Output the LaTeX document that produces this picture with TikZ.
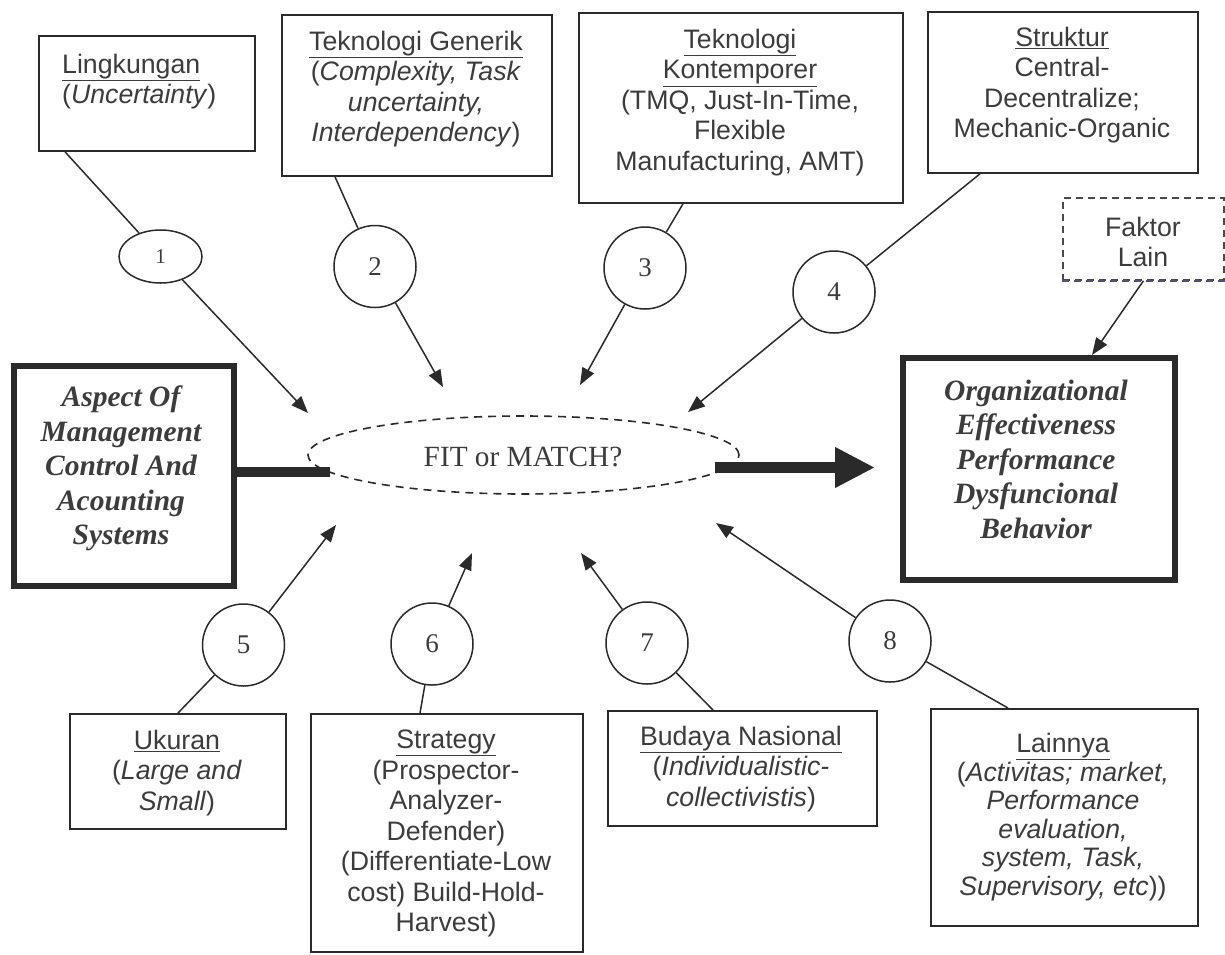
\documentclass[tikz,border=0pt]{standalone}
\usepackage{fontspec}
\setmainfont{Liberation Sans}
\newfontfamily\tnr{Liberation Serif}
\usetikzlibrary{arrows.meta,shapes.geometric}
\definecolor{ink}{HTML}{2A2A2A}
\definecolor{txtc}{HTML}{3C3C3C}
\definecolor{violetline}{HTML}{5A4E78}
\begin{document}
\begin{tikzpicture}[x=1pt,y=-1pt,
  box/.style={draw=ink, line width=1.8pt, anchor=north west, inner sep=0pt},
  bigbox/.style={draw=ink, line width=6pt, anchor=north west, inner sep=0pt},
  lbl/.style={text=txtc, font=\fontsize{26.7}{30.5}\selectfont, align=center, inner sep=0pt},
  biglbl/.style={text=txtc, font=\tnr\bfseries\itshape\fontsize{29.5}{34.5}\selectfont, align=center, inner sep=0pt},
  num/.style={draw=ink, line width=1.5pt, circle, minimum size=82pt, inner sep=0pt, text=txtc, font=\tnr\fontsize{27}{29}\selectfont},
  conn/.style={draw=ink, line width=1.5pt},
  arr/.style={conn, -{Triangle[length=17pt,width=13pt]}}
]
\useasboundingbox (0,0) rectangle (1225,954);

% top boxes
\node[box, minimum width=216pt, minimum height=115pt] (b1) at (38,35) {};
\node[lbl, align=left, anchor=west] (t1) at (62,81.5) {\underline{Lingkungan}\\(\textit{Uncertainty})};
\node[box, minimum width=270pt, minimum height=161pt] (b2) at (281,14) {};
\node[lbl] (t2) at (416,89) {\underline{Teknologi Generik}\\(\textit{Complexity, Task}\\\textit{uncertainty,}\\\textit{Interdependency})};
\node[box, minimum width=324pt, minimum height=190pt] (b3) at (578,12) {};
\node[lbl] (t3) at (740,102.5) {\underline{Teknologi}\\\underline{Kontemporer}\\(TMQ, Just-In-Time,\\Flexible\\Manufacturing, AMT)};
\node[box, minimum width=270pt, minimum height=161pt] (b4) at (927,11) {};
\node[lbl] (t4) at (1062,85) {\underline{Struktur}\\Central-\\Decentralize;\\Mechanic-Organic};
\node[box, dashed, dash pattern=on 7pt off 5pt, draw=ink!85, minimum width=161pt, minimum height=82pt] (fl) at (1062,197) {};
\draw[violetline, line width=1.8pt, dash pattern=on 7pt off 5pt] (fl.south west) -- (fl.south east);
\node[lbl] (tfl) at (1143,242) {Faktor\\Lain};

% big boxes
\node[bigbox, minimum width=220pt, minimum height=220pt] (asp) at (11,363) {};
\node[biglbl] (tasp) at (121,468.5) {Aspect Of\\Management\\Control And\\Acounting\\Systems};
\node[bigbox, minimum width=272pt, minimum height=222pt] (org) at (900,355) {};
\node[biglbl] (torg) at (1036,459) {Organizational\\Effectiveness\\Performance\\Dysfuncional\\Behavior};

% central ellipse
\node[ellipse, draw=ink, dashed, dash pattern=on 8pt off 6pt, line width=1.6pt, minimum width=431pt, minimum height=78pt, inner sep=0pt] (fit) at (523.5,455) {};
\node[text=txtc, font=\tnr\fontsize{29.3}{31}\selectfont, inner sep=0pt] (tfit) at (523,457) {FIT or MATCH?};

% thick connectors
\coordinate (la) at (330,472);
\draw[ink, line width=10pt] (asp.east |- la) -- (la);
\coordinate (ra) at (715,467.5);
\coordinate (rb) at (875,467.5);
\draw[ink, line width=11pt, -{Triangle[length=40pt,width=38pt]}] (ra) -- (rb);

% circles
\node[num, ellipse, minimum width=83pt, minimum height=53pt, font=\tnr\fontsize{21}{23}\selectfont] (c1) at (160.5,256.5) {1};
\node[num] (c2) at (375,266.5) {2};
\node[num] (c3) at (645,268) {3};
\node[num] (c4) at (834,292) {4};
\node[num] (c5) at (243.5,645) {5};
\node[num] (c6) at (432,644) {6};
\node[num] (c7) at (647,643) {7};
\node[num] (c8) at (890,641) {8};

% bottom boxes
\node[box, minimum width=216pt, minimum height=115pt] (b5) at (69,713) {};
\node[lbl] (t5) at (177,773) {\underline{Ukuran}\\(\textit{Large and}\\\textit{Small})};
\node[box, minimum width=272pt, minimum height=238pt] (b6) at (310,713) {};
\node[lbl] (t6) at (446,833.5) {\underline{Strategy}\\(Prospector-\\Analyzer-\\Defender)\\(Differentiate-Low\\cost) Build-Hold-\\Harvest)};
\node[box, minimum width=269pt, minimum height=115pt] (b7) at (607,710) {};
\node[lbl] (t7) at (741,769) {\underline{Budaya Nasional}\\(\textit{Individualistic-}\\\textit{collectivistis})};
\node[box, minimum width=267pt, minimum height=217pt] (b8) at (930,708) {};
\node[lbl, font=\fontsize{26.7}{28.5}\selectfont] (t8) at (1063,817) {\underline{Lainnya}\\(\textit{Activitas; market,}\\\textit{Performance}\\\textit{evaluation,}\\\textit{system, Task,}\\\textit{Supervisory, etc}))};

% free arrow ends near the ellipse
\coordinate (e1) at (308,413);
\coordinate (e2) at (443,387);
\coordinate (e3) at (580,385);
\coordinate (e4) at (688,412);
\coordinate (e5) at (336,525);
\coordinate (e6) at (472,553);
\coordinate (e7) at (581,553);
\coordinate (e8) at (716,523);
\coordinate (eo) at (1092,355);

% connectors box -> circle -> ellipse
\draw[conn] ([xshift=27pt]b1.south west) -- (c1);
\draw[arr] (c1) -- (e1);
\draw[conn] ([xshift=54pt]b2.south west) -- (c2);
\draw[arr] (c2) -- (e2);
\draw[conn] ([xshift=105pt]b3.south west) -- (c3);
\draw[arr] (c3) -- (e3);
\draw[conn] ([xshift=53pt]b4.south west) -- (c4);
\draw[arr] (c4) -- (e4);
\draw[arr] (fl.south) -- (eo);
\draw[conn] ([xshift=109pt]b5.north west) -- (c5);
\draw[arr] (c5) -- (e5);
\draw[conn] ([xshift=110pt]b6.north west) -- (c6);
\draw[arr] (c6) -- (e6);
\draw[conn] ([xshift=106pt]b7.north west) -- (c7);
\draw[arr] (c7) -- (e7);
\draw[conn] ([xshift=78pt]b8.north west) -- (c8);
\draw[arr] (c8) -- (e8);
\end{tikzpicture}
\end{document}
